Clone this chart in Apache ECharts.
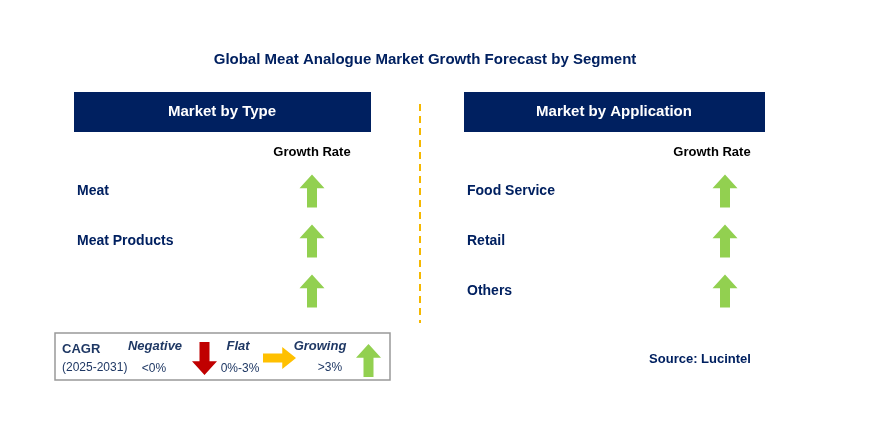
<!DOCTYPE html>
<html>
<head>
<meta charset="utf-8">
<script src="https://cdn.jsdelivr.net/npm/echarts@6/dist/echarts.min.js"></script>
<style>html,body{margin:0;background:#fff}#c{width:893px;height:428px}</style>
</head>
<body>
<div id="c"></div>
<script>
let typeNames = ["Meat", "Meat Products", ""];
let typeGrowth = ["up", "up", "up"];
let appNames = ["Food Service", "Retail", "Others"];
let appGrowth = ["up", "up", "up"];

let NAVY = "#002060";
let FONT = "Liberation Sans, Arial, sans-serif";
// arrow outlines in a 10x12 (or 12x10) box
let arrows = {
    up: {pts: [[5,0],[10,5],[7,5],[7,12],[3,12],[3,5],[0,5]], box: [10, 12], color: "#92d050", size: [25, 33]},
    down: {pts: [[3,0],[7,0],[7,7],[10,7],[5,12],[0,7],[3,7]], box: [10, 12], color: "#c00000", size: [25, 33]},
    flat: {pts: [[0,3],[7,3],[7,0],[12,5],[7,10],[7,7],[0,7]], box: [12, 10], color: "#ffc000", size: [33, 22]}
};
function symbolPath(a) {
    return "path://M" + a.pts.map(function (p) { return p[0] + "," + p[1]; }).join(" L") + " Z";
}

let myEcharts = echarts.init(document.getElementById("c"));

function panel(idx, names, growth) {
    return [
        {
            type: "scatter", xAxisIndex: idx, yAxisIndex: idx, silent: true,
            data: growth.map(function (g, i) {
                let a = arrows[g];
                return {value: [1, i], symbol: symbolPath(a), symbolSize: a.size,
                    itemStyle: {color: a.color, opacity: 1}};
            })
        },
        {
            type: "scatter", xAxisIndex: idx, yAxisIndex: idx, silent: true, symbolSize: 0,
            itemStyle: {opacity: 1},
            data: names.map(function (n, i) { return {value: [0, i], name: n}; }),
            label: {show: true, position: "right", distance: 0, formatter: "{b}",
                color: NAVY, fontFamily: FONT, fontWeight: "bold", fontSize: 14}
        }
    ];
}

function legendArrow(g, x, y) {
    let a = arrows[g];
    let sx = a.size[0] / a.box[0], sy = a.size[1] / a.box[1];
    return {type: "polygon", shape: {points: a.pts.map(function (p) { return [x + p[0] * sx, y + p[1] * sy]; })},
        style: {fill: a.color}};
}

let option = {
    animation: false,
    title: {text: "Global Meat Analogue Market Growth Forecast by Segment", left: 420, top: 47,
        textAlign: "center",
        textStyle: {color: NAVY, fontFamily: FONT, fontSize: 15, fontWeight: "bold"}},
    grid: [
        {left: 77, width: 235, top: 166, height: 150},
        {left: 467, width: 258, top: 166, height: 150}
    ],
    xAxis: [0, 1].map(function (i) {
        return {gridIndex: i, type: "value", min: 0, max: 1, show: false};
    }),
    yAxis: [0, 1].map(function (i) {
        return {gridIndex: i, type: "category", data: [0, 1, 2], inverse: true, show: false};
    }),
    series: panel(0, typeNames, typeGrowth).concat(panel(1, appNames, appGrowth)),
    graphic: [
        {type: "rect", shape: {x: 74, y: 92, width: 297, height: 40}, style: {fill: NAVY}},
        {type: "text", x: 222, y: 112, style: {text: "Market by Type", fill: "#fff", font: "bold 15px " + FONT,
            textAlign: "center", textVerticalAlign: "middle"}},
        {type: "rect", shape: {x: 464, y: 92, width: 301, height: 40}, style: {fill: NAVY}},
        {type: "text", x: 614, y: 112, style: {text: "Market by Application", fill: "#fff", font: "bold 15px " + FONT,
            textAlign: "center", textVerticalAlign: "middle"}},
        {type: "text", x: 312, y: 152, style: {text: "Growth Rate", fill: "#000", font: "bold 13px " + FONT,
            textAlign: "center", textVerticalAlign: "middle"}},
        {type: "text", x: 712, y: 152, style: {text: "Growth Rate", fill: "#000", font: "bold 13px " + FONT,
            textAlign: "center", textVerticalAlign: "middle"}},
        {type: "line", shape: {x1: 420, y1: 104, x2: 420, y2: 323},
            style: {stroke: "#f5b800", lineWidth: 2, lineDash: [7, 5]}},
        {type: "rect", shape: {x: 55, y: 333, width: 335, height: 47},
            style: {fill: "#fff", stroke: "#999", lineWidth: 1.5}},
        {type: "text", x: 62, y: 349, style: {text: "CAGR", fill: "#1f3864", font: "bold 13px " + FONT, textVerticalAlign: "middle"}},
        {type: "text", x: 62, y: 368, style: {text: "(2025-2031)", fill: "#1f3864", font: "12px " + FONT, textVerticalAlign: "middle"}},
        {type: "text", x: 155, y: 346, style: {text: "Negative", fill: "#1f3864", font: "italic bold 13px " + FONT, textAlign: "center", textVerticalAlign: "middle"}},
        {type: "text", x: 154, y: 369, style: {text: "<0%", fill: "#1f3864", font: "12px " + FONT, textAlign: "center", textVerticalAlign: "middle"}},
        legendArrow("down", 192, 342),
        {type: "text", x: 238, y: 346, style: {text: "Flat", fill: "#1f3864", font: "italic bold 13px " + FONT, textAlign: "center", textVerticalAlign: "middle"}},
        {type: "text", x: 240, y: 369, style: {text: "0%-3%", fill: "#1f3864", font: "12px " + FONT, textAlign: "center", textVerticalAlign: "middle"}},
        legendArrow("flat", 263, 347),
        {type: "text", x: 320, y: 346, style: {text: "Growing", fill: "#1f3864", font: "italic bold 13px " + FONT, textAlign: "center", textVerticalAlign: "middle"}},
        {type: "text", x: 330, y: 368, style: {text: ">3%", fill: "#1f3864", font: "12px " + FONT, textAlign: "center", textVerticalAlign: "middle"}},
        legendArrow("up", 356, 344),
        {type: "text", x: 700, y: 359, style: {text: "Source: Lucintel", fill: NAVY, font: "bold 13px " + FONT, textAlign: "center", textVerticalAlign: "middle"}}
    ]
};
myEcharts.setOption(option);
</script>
</body>
</html>
